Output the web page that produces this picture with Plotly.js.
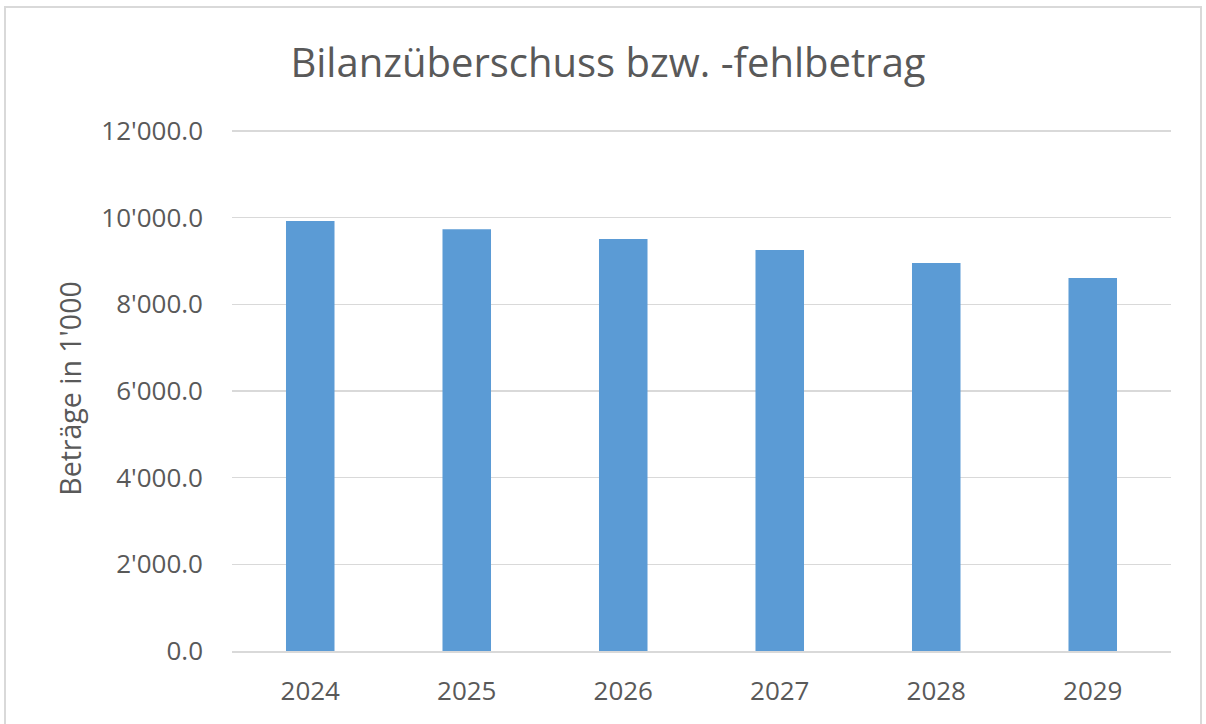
<!DOCTYPE html>
<html>
<head>
<meta charset="utf-8">
<script src="https://cdn.plot.ly/plotly-3.0.1.min.js"></script>
<style>
html,body{margin:0;padding:0;background:#fff;}
#chart{width:1206px;height:724px;}
</style>
</head>
<body>
<div id="chart"></div>
<script>
const years = ['2024', '2025', '2026', '2027', '2028', '2029'];
const values = [9923, 9730, 9508, 9254, 8954, 8608];
const chartTitle = 'Bilanzüberschuss bzw. -fehlbetrag';
const yTitle = "Beträge in 1'000";

const W = 1206, H = 724;
const L = 232, R = 35, T = 126, B = 73;
const pw = W - L - R, ph = H - T - B;
function px(x){ return (x - L) / pw; }
function py(y){ return (H - B - y) / ph; }

const fontFam = '"Open Sans", "Noto Sans", sans-serif';

Plotly.newPlot('chart', [{
  type: 'bar',
  x: years,
  y: values,
  marker: {color: '#5b9bd5', line: {width: 0}},
  hoverinfo: 'x+y'
}], {
  width: W, height: H,
  margin: {l: L, r: R, t: T, b: B, pad: 0},
  paper_bgcolor: '#ffffff',
  plot_bgcolor: '#ffffff',
  separators: ".'",
  bargap: 0.69,
  showlegend: false,
  font: {family: fontFam, color: '#595959'},
  title: {
    text: chartTitle,
    font: {family: fontFam, size: 40, color: '#595959'},
    x: 608 / W, xanchor: 'center', xref: 'container',
    y: 1 - 63 / H, yref: 'container', yanchor: 'middle'
  },
  xaxis: {
    type: 'category',
    showgrid: false,
    showline: true, linecolor: '#d9d9d9', linewidth: 2,
    ticks: '', ticklabelstandoff: 16,
    tickfont: {family: fontFam, size: 26, color: '#595959'},
    automargin: false
  },
  yaxis: {
    range: [0, 12115.4],
    tickvals: [0, 2000, 4000, 6000, 8000, 10000, 12000],
    tickformat: ',.1f',
    showgrid: true, gridcolor: '#d9d9d9', gridwidth: 1.5,
    zeroline: false, showline: false,
    ticks: '', ticklabelstandoff: 28,
    tickfont: {family: fontFam, size: 26, color: '#595959'},
    title: {text: yTitle, font: {family: fontFam, size: 28.5, color: '#595959'}, standoff: 11},
    automargin: false
  },
  shapes: [{
    type: 'rect', xref: 'paper', yref: 'paper',
    x0: px(5), x1: px(1201), y0: py(7), y1: py(740),
    line: {color: '#d9d9d9', width: 2}, fillcolor: 'rgba(0,0,0,0)', layer: 'below'
  }]
}, {staticPlot: true});
</script>
</body>
</html>
